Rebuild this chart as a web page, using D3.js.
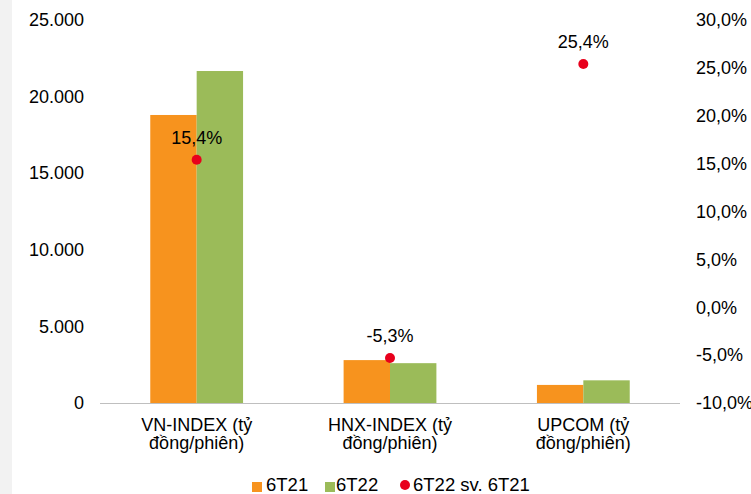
<!DOCTYPE html>
<html>
<head>
<meta charset="utf-8">
<script src="https://cdn.jsdelivr.net/npm/d3@7"></script>
<style>
  html, body { margin: 0; padding: 0; background: #fff; }
  svg { display: block; }
  text { font-family: "Liberation Sans", Arial, sans-serif; fill: #000; }
</style>
</head>
<body>
<svg id="chart" width="751" height="494"></svg>
<script>
const categories = [["VN-INDEX (tỷ", "đồng/phiên)"], ["HNX-INDEX (tỷ", "đồng/phiên)"], ["UPCOM (tỷ", "đồng/phiên)"]];
const seriesNames = ["6T21", "6T22", "6T22 sv. 6T21"];
const values6T21 = [18800, 2800, 1180];
const values6T22 = [21670, 2600, 1480];
const changePct = [15.4, -5.3, 25.4];
const changeLabels = ["15,4%", "-5,3%", "25,4%"];
const leftTicks = [0, 5000, 10000, 15000, 20000, 25000];
const leftTickLabels = ["0", "5.000", "10.000", "15.000", "20.000", "25.000"];
const rightTicks = [-10, -5, 0, 5, 10, 15, 20, 25, 30];
const rightTickLabels = ["-10,0%", "-5,0%", "0,0%", "5,0%", "10,0%", "15,0%", "20,0%", "25,0%", "30,0%"];

const colors = { a: "#F7931E", b: "#9BBB59", dot: "#E8001C", axis: "#BFBFBF" };

const svg = d3.select("#chart");
svg.append("rect").attr("x", 0).attr("y", 0).attr("width", 12).attr("height", 494).attr("fill", "#f2f2f2");

const plot = { left: 100, right: 680, top: 20, bottom: 403 };
const x = d3.scaleBand().domain(d3.range(categories.length)).range([plot.left, plot.right]).paddingInner(0.52).paddingOuter(0.26);
const y = d3.scaleLinear().domain([0, 25000]).range([plot.bottom, plot.top]);
const y2 = d3.scaleLinear().domain([-10, 30]).range([plot.bottom, plot.top]);
const xs = d3.scaleBand().domain([0, 1]).range([0, x.bandwidth()]);

// left axis
const gl = svg.append("g").attr("transform", `translate(84,0)`)
  .call(d3.axisLeft(y).tickValues(leftTicks).tickSize(0).tickPadding(0).tickFormat((d, i) => leftTickLabels[i]));
gl.select(".domain").remove();
gl.selectAll("text").attr("font-size", 18).attr("font-family", "Liberation Sans, Arial, sans-serif").attr("fill", "#000");

// right axis
const gr = svg.append("g").attr("transform", `translate(696,0)`)
  .call(d3.axisRight(y2).tickValues(rightTicks).tickSize(0).tickPadding(0).tickFormat((d, i) => rightTickLabels[i]));
gr.select(".domain").remove();
gr.selectAll("text").attr("font-size", 18).attr("font-family", "Liberation Sans, Arial, sans-serif").attr("fill", "#000");

// bars
const g = svg.append("g");
categories.forEach((c, i) => {
  g.append("rect").attr("x", x(i) + xs(0)).attr("width", xs.bandwidth())
    .attr("y", y(values6T21[i])).attr("height", y(0) - y(values6T21[i])).attr("fill", colors.a);
  g.append("rect").attr("x", x(i) + xs(1)).attr("width", xs.bandwidth())
    .attr("y", y(values6T22[i])).attr("height", y(0) - y(values6T22[i])).attr("fill", colors.b);
});

// baseline
svg.append("line").attr("x1", plot.left).attr("x2", plot.right).attr("y1", y(0) + 0.5).attr("y2", y(0) + 0.5)
  .attr("stroke", colors.axis).attr("stroke-width", 1);

// category labels
categories.forEach((c, i) => {
  const cx = x(i) + x.bandwidth() / 2;
  const t = svg.append("text").attr("text-anchor", "middle").attr("font-size", 18);
  t.append("tspan").attr("x", cx).attr("y", 431).text(c[0]);
  t.append("tspan").attr("x", cx).attr("y", 449).text(c[1]);
});

// dots and labels
changePct.forEach((v, i) => {
  const cx = x(i) + x.bandwidth() / 2;
  svg.append("circle").attr("cx", cx).attr("cy", y2(v)).attr("r", 5).attr("fill", colors.dot);
  svg.append("text").attr("x", cx).attr("y", y2(v) - 16).attr("text-anchor", "middle").attr("font-size", 18).text(changeLabels[i]);
});

// legend
const lg = svg.append("g");
lg.append("rect").attr("x", 252).attr("y", 482).attr("width", 10).attr("height", 10).attr("fill", colors.a);
lg.append("text").attr("x", 266).attr("y", 491).attr("font-size", 18.5).text(seriesNames[0]);
lg.append("rect").attr("x", 325).attr("y", 482).attr("width", 10).attr("height", 10).attr("fill", colors.b);
lg.append("text").attr("x", 336).attr("y", 491).attr("font-size", 18.5).text(seriesNames[1]);
lg.append("circle").attr("cx", 405).attr("cy", 485).attr("r", 5).attr("fill", colors.dot);
lg.append("text").attr("x", 413).attr("y", 491).attr("font-size", 18.5).text(seriesNames[2]);
</script>
</body>
</html>
